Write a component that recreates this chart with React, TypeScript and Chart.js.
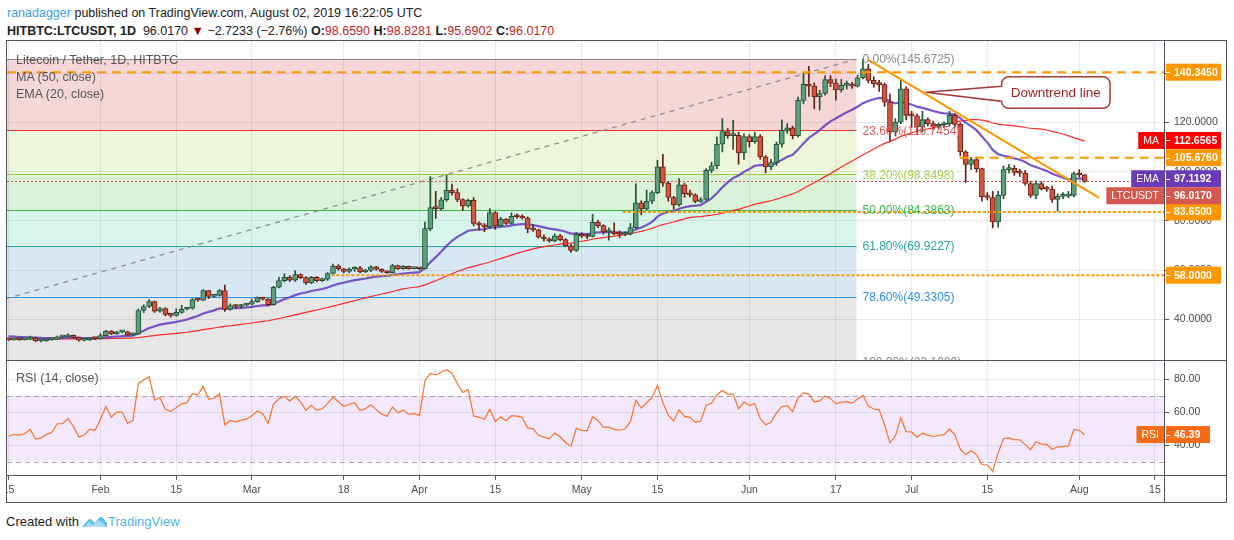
import React, { useEffect, useRef } from "react";
import { Chart, registerables } from "chart.js";

Chart.register(...registerables);

const FONT = "'Liberation Sans', Arial, sans-serif";

// ---------- data (day index = days since 2019-01-01) ----------
const firstDay = 14; // 2019-01-15
const firstOpen = 32.3;

const closes = [
  31.8, 32.0, 31.9, 32.1, 32.6, 31.3, 31.4, 31.8, 32.0, 33.0,
  33.0, 33.6, 32.8, 31.6, 31.8, 32.4, 32.3, 33.5, 35.3, 34.2,
  35.0, 35.0, 33.8, 34.2, 43.7, 45.3, 47.3, 43.4, 44.5, 42.1,
  41.7, 42.9, 44.2, 44.6, 48.1, 47.9, 51.8, 49.4, 49.8, 51.8,
  44.1, 45.7, 45.3, 45.9, 46.2, 47.3, 48.9, 48.3, 46.0, 53.1,
  55.8, 57.1, 56.0, 58.3, 57.0, 54.9, 57.1, 55.8, 56.4, 58.7,
  61.7, 60.6, 59.5, 60.4, 61.0, 59.3, 60.0, 61.4, 60.4, 59.5,
  59.0, 61.9, 60.7, 61.6, 60.7, 60.9, 60.6, 76.9, 85.4, 85.0,
  88.6, 92.4, 91.5, 88.7, 86.1, 88.4, 79.0, 78.4, 77.6, 83.4,
  78.0, 80.7, 79.0, 81.9, 81.7, 81.2, 76.8, 76.4, 73.5, 72.7,
  71.9, 74.0, 72.4, 69.9, 68.1, 74.6, 73.8, 73.7, 79.4, 78.1,
  75.6, 75.6, 74.8, 74.5, 74.9, 77.3, 87.4, 84.9, 88.0, 91.5,
  102.0, 95.4, 89.5, 86.5, 94.7, 91.1, 90.6, 87.9, 88.7, 100.5,
  102.4, 111.1, 116.3, 114.6, 114.7, 107.6, 114.2, 112.2, 114.2, 106.0,
  101.9, 103.7, 111.1, 116.8, 117.8, 114.6, 128.9, 135.4, 134.7, 130.3,
  131.7, 137.3, 135.9, 133.2, 135.0, 135.4, 134.7, 138.1, 141.7, 137.0,
  135.7, 135.3, 128.2, 116.1, 120.1, 133.6, 122.8, 122.6, 118.1, 121.1,
  119.5, 118.4, 119.0, 119.5, 122.8, 119.2, 108.0, 102.9, 104.9, 101.2,
  89.8, 89.5, 79.6, 90.4, 100.8, 101.3, 99.7, 99.4, 95.2, 90.4,
  95.2, 93.1, 92.9, 88.7, 90.0, 90.1, 90.4, 99.2, 98.74, 96.017,
];

const highs = [
  32.5, 32.3, 32.3, 32.4, 33.3, 32.8, 31.8, 32.1, 32.3, 33.3,
  33.5, 34.2, 33.8, 32.9, 32.1, 32.7, 32.6, 34.3, 35.6, 35.5,
  35.3, 35.4, 35.3, 34.5, 44.3, 46.0, 48.1, 47.5, 45.0, 44.8,
  42.5, 44.3, 45.8, 45.0, 48.5, 48.6, 52.2, 51.9, 50.1, 52.2,
  54.0, 46.4, 46.0, 46.2, 46.6, 48.3, 49.2, 49.1, 48.5, 53.5,
  57.2, 58.6, 57.8, 59.8, 58.6, 57.4, 57.5, 57.5, 56.8, 59.1,
  62.5, 62.3, 60.8, 61.0, 61.4, 61.6, 60.4, 61.8, 61.6, 60.6,
  59.8, 62.4, 62.1, 61.9, 61.7, 61.2, 61.0, 79.5, 98.0, 92.0,
  89.5, 98.6, 95.0, 93.0, 89.0, 88.9, 89.5, 79.6, 79.0, 85.0,
  83.8, 81.5, 81.0, 83.3, 82.8, 82.5, 81.7, 78.5, 76.7, 74.4,
  73.2, 74.8, 74.6, 72.8, 70.5, 75.3, 75.2, 74.5, 82.7, 80.3,
  78.5, 77.2, 79.2, 76.0, 75.6, 79.0, 95.1, 88.2, 92.5, 92.2,
  104.6, 107.0, 96.0, 90.0, 97.2, 95.3, 92.5, 91.0, 89.5, 101.2,
  103.9, 114.0, 121.5, 117.5, 120.8, 116.0, 115.3, 115.0, 116.0, 115.0,
  106.5, 105.0, 112.0, 121.0, 119.5, 118.5, 130.2, 139.7, 142.7, 136.0,
  133.0, 139.0, 139.0, 137.5, 137.5, 136.8, 136.2, 139.2, 145.7, 143.5,
  138.5, 137.0, 136.0, 131.6, 121.5, 137.0, 134.5, 124.5, 123.5, 124.5,
  121.8, 120.5, 119.7, 120.2, 124.5, 123.5, 119.8, 108.5, 105.8, 106.0,
  101.5, 91.5, 92.0, 92.0, 102.3, 103.0, 102.5, 101.0, 100.5, 96.0,
  96.3, 96.0, 94.0, 94.2, 91.0, 91.5, 92.0, 99.8, 100.8, 98.83,
];

const lows = [
  31.5, 31.6, 31.6, 31.7, 31.8, 31.0, 30.9, 31.2, 31.6, 31.9,
  32.6, 32.9, 32.5, 31.2, 31.3, 31.5, 31.9, 32.1, 33.3, 33.9,
  34.0, 34.6, 33.5, 33.6, 34.0, 42.8, 44.8, 42.9, 43.0, 41.5,
  41.0, 41.4, 42.6, 43.9, 44.2, 47.4, 47.7, 48.5, 49.0, 49.5,
  43.3, 43.8, 44.6, 44.6, 45.5, 45.9, 47.0, 47.9, 45.6, 45.8,
  52.8, 55.3, 55.4, 55.5, 56.6, 54.3, 54.6, 55.3, 55.5, 55.9,
  58.4, 60.0, 59.0, 59.0, 59.6, 58.9, 59.1, 59.4, 60.0, 59.1,
  58.7, 58.9, 60.3, 60.4, 60.4, 60.5, 60.2, 60.5, 76.0, 81.0,
  84.3, 88.0, 90.5, 87.8, 84.3, 85.6, 78.0, 76.4, 75.6, 76.9,
  76.6, 77.6, 78.5, 78.7, 81.0, 80.7, 75.2, 75.8, 73.0, 71.8,
  71.4, 71.5, 71.9, 69.5, 67.2, 67.6, 73.2, 72.8, 73.5, 77.3,
  74.6, 72.2, 74.4, 73.3, 74.0, 74.3, 77.0, 82.5, 84.6, 87.0,
  91.0, 94.0, 88.0, 84.7, 86.0, 89.6, 89.8, 87.4, 87.5, 88.3,
  99.6, 101.2, 108.0, 113.5, 109.0, 103.0, 105.0, 110.0, 111.5, 105.0,
  99.5, 100.8, 102.5, 110.0, 115.5, 113.3, 114.0, 127.5, 130.5, 125.5,
  125.0, 131.0, 134.5, 129.0, 132.3, 133.5, 133.8, 134.3, 137.6, 136.0,
  134.2, 132.5, 126.5, 112.5, 114.5, 119.5, 121.0, 118.0, 115.5, 116.0,
  118.5, 117.0, 117.5, 117.8, 118.5, 118.0, 106.5, 95.6, 100.8, 99.8,
  88.0, 88.5, 77.2, 77.5, 89.0, 99.5, 98.5, 98.0, 94.5, 89.5,
  89.0, 92.5, 92.0, 87.5, 84.0, 89.0, 89.5, 89.8, 97.8, 95.69,
];

// axis ranges / ticks
const xMin = 13.71;
const xMax = 227.86;
const dateTickDays = [14, 31, 45, 59, 76, 90, 104, 120, 134, 151, 167, 181, 195, 212, 226];
const dateTickLabels = ["15", "Feb", "15", "Mar", "18", "Apr", "15", "May", "15", "Jun", "17", "Jul", "15", "Aug", "15"];
const priceMin = 23.2;
const priceMax = 153.4;
const priceTicks = [40, 60, 80, 100, 120, 140];
const rsiMin = 21.2;
const rsiMax = 91.1;
const rsiTicks = [40, 60, 80];
const rsiBand = [30, 70];

// indicator seeds (values at the left edge)
const emaSeed = 33.3;
const maSeed = 32.2;
const rsiSeedGain = 0.45;
const rsiSeedLoss = 0.5;

// fibonacci retracement drawing
const fibLow = 23.1;
const fibHigh = 145.6725;
const fibStartDay = -27.5;
const fibEndDay = 170.8;
const fibRatios = [0, 0.236, 0.382, 0.5, 0.618, 0.786, 1];
const fibLineColors = ["#8a8a8a", "#e53935", "#9ccc3a", "#3cb84a", "#26a69a", "#2196f3", "#8a8a8a"];
const fibTextColors = ["#8a8a8a", "#e05a5a", "#a8cc52", "#3cb84a", "#26a69a", "#2f8fe0", "#8a8a8a"];
const fibFillColors = ["#f5d7d7", "#eef6da", "#daf2d8", "#d8f5ec", "#d8e9f5", "#e6e6e6"];

// horizontal orange levels
const levelValues = [140.345, 105.676, 83.65, 58];
const levelStartDays = [13.71, 189.9, 127.6, 73.7];
const levelDotted = [false, false, true, true];

// downtrend line
const trendDays = [173, 215.7];
const trendPrices = [145.3, 89.4];

const lastClose = 96.017;
const maLast = 112.6565;
const emaLast = 97.1192;
const rsiLast = 46.39;

const calloutText = "Downtrend line";
const calloutTip = { day: 183.6, price: 132.2 };
const calloutBox = { dayFrom: 197.65, dayTo: 217.7, priceTop: 138.5, priceBottom: 125.7 };

// ---------- derived series ----------
const days = closes.map((_, i) => firstDay + i);
const opens = closes.map((_, i) => (i === 0 ? firstOpen : closes[i - 1]));

function ema(values: number[], period: number, seed: number) {
  const k = 2 / (period + 1);
  let e = seed;
  return values.map((v) => (e = v * k + e * (1 - k)));
}
function sma(values: number[], period: number, seed: number) {
  return values.map((_, i) => {
    const from = Math.max(0, i - period + 1);
    let s = 0;
    for (let j = from; j <= i; j++) s += values[j];
    const missing = period - (i - from + 1);
    return (s + missing * seed) / period;
  });
}
function rsiCalc(values: number[], period: number, g0: number, l0: number, prev0: number) {
  let ag = g0;
  let al = l0;
  let prev = prev0;
  return values.map((v) => {
    const ch = v - prev;
    prev = v;
    ag = (ag * (period - 1) + Math.max(ch, 0)) / period;
    al = (al * (period - 1) + Math.max(-ch, 0)) / period;
    return al === 0 ? 100 : 100 - 100 / (1 + ag / al);
  });
}

const emaSeries = ema(closes, 20, emaSeed);
const maSeries = sma(closes, 50, maSeed);
const rsiSeries = rsiCalc(closes, 14, rsiSeedGain, rsiSeedLoss, firstOpen);

const fibLevel = (r: number) => fibHigh - r * (fibHigh - fibLow);

// ---------- styles ----------
const GRID = "rgba(40,44,55,0.10)";
const UP_FILL = "#5c9f7a";
const UP_LINE = "#1f5236";
const DN_FILL = "#d6533f";
const DN_LINE = "#6b1d14";
const ORANGE = "#FF9800";
const AXIS_TEXT = "#4a4a4a";

const axisLabels = [
  { value: 140.345, text: "140.3450", color: "#FF9800", tag: "" },
  { value: 105.676, text: "105.6760", color: "#FF9800", tag: "" },
  { value: 83.65, text: "83.6500", color: "#FF9800", tag: "" },
  { value: 58, text: "58.0000", color: "#FF9800", tag: "" },
  { value: emaLast, text: "97.1192", color: "#6a3ab8", tag: "EMA" },
  { value: maLast, text: "112.6565", color: "#FF0000", tag: "MA" },
  { value: lastClose, text: "96.0170", color: "#d6574d", tag: "LTCUSDT" },
];

function zeroPadding(s: any) {
  s.paddingTop = 0;
  s.paddingBottom = 0;
  s.paddingLeft = 0;
  s.paddingRight = 0;
}

function drawTaggedLabel(ctx: CanvasRenderingContext2D, axisX: number, y: number, boxW: number, color: string, text: string, tag: string) {
  const h = 17;
  ctx.fillStyle = color;
  ctx.fillRect(axisX + 1, y - h / 2, boxW, h);
  ctx.strokeStyle = "#ffffff";
  ctx.lineWidth = 1;
  ctx.beginPath();
  ctx.moveTo(axisX + 1, Math.round(y) + 0.5);
  ctx.lineTo(axisX + 5, Math.round(y) + 0.5);
  ctx.stroke();
  ctx.fillStyle = "#ffffff";
  ctx.font = `bold 10.5px ${FONT}`;
  ctx.textAlign = "left";
  ctx.textBaseline = "middle";
  ctx.fillText(text, axisX + 9, y + 0.5);
  if (tag) {
    ctx.font = `10.5px ${FONT}`;
    const w = ctx.measureText(tag).width + 10;
    ctx.fillStyle = color;
    ctx.fillRect(axisX - 1 - w, y - h / 2, w, h);
    ctx.fillStyle = "#ffffff";
    ctx.textAlign = "center";
    ctx.fillText(tag, axisX - 1 - w / 2, y + 0.5);
  }
}

const fibPlugin = {
  id: "fib",
  beforeDraw(chart: any) {
    const { ctx, chartArea: a, scales } = chart;
    const xs = scales.x;
    const ys = scales.y;
    const x0 = xs.getPixelForValue(fibStartDay);
    const x1 = xs.getPixelForValue(fibEndDay);
    ctx.save();
    ctx.beginPath();
    ctx.rect(a.left, a.top, a.right - a.left, a.bottom - a.top);
    ctx.clip();
    for (let i = 0; i < fibRatios.length - 1; i++) {
      const yA = ys.getPixelForValue(fibLevel(fibRatios[i]));
      const yB = ys.getPixelForValue(fibLevel(fibRatios[i + 1]));
      ctx.fillStyle = fibFillColors[i];
      ctx.fillRect(x0, yA, x1 - x0, yB - yA);
    }
    ctx.restore();
  },
  beforeDatasetsDraw(chart: any) {
    const { ctx, chartArea: a, scales } = chart;
    const xs = scales.x;
    const ys = scales.y;
    const x0 = Math.max(a.left, xs.getPixelForValue(fibStartDay));
    const x1 = xs.getPixelForValue(fibEndDay);
    ctx.save();
    ctx.beginPath();
    ctx.rect(a.left, a.top, a.right - a.left, a.bottom - a.top);
    ctx.clip();
    fibRatios.forEach((r, i) => {
      const y = Math.round(ys.getPixelForValue(fibLevel(r))) + 0.5;
      ctx.strokeStyle = fibLineColors[i];
      ctx.lineWidth = 1;
      ctx.beginPath();
      ctx.moveTo(x0, y);
      ctx.lineTo(x1, y);
      ctx.stroke();
    });
    ctx.restore();
  },
  afterDatasetsDraw(chart: any) {
    const { ctx, chartArea: a, scales } = chart;
    const xs = scales.x;
    const ys = scales.y;
    const x1 = xs.getPixelForValue(fibEndDay);
    ctx.save();
    ctx.beginPath();
    ctx.rect(a.left, a.top, a.right - a.left, a.bottom - a.top);
    ctx.clip();
    ctx.font = `12px ${FONT}`;
    ctx.textAlign = "left";
    ctx.textBaseline = "middle";
    fibRatios.forEach((r, i) => {
      const v = fibLevel(r);
      const y = ys.getPixelForValue(v);
      ctx.fillStyle = fibTextColors[i];
      ctx.fillText(`${(r * 100).toFixed(2)}%(${v.toFixed(4)})`, x1 + 6, y + 1);
    });

    // callout
    const tx = xs.getPixelForValue(calloutTip.day);
    const ty = ys.getPixelForValue(calloutTip.price);
    const bx0 = xs.getPixelForValue(calloutBox.dayFrom);
    const bx1 = xs.getPixelForValue(calloutBox.dayTo);
    const by0 = ys.getPixelForValue(calloutBox.priceTop);
    const by1 = ys.getPixelForValue(calloutBox.priceBottom);
    const rr = 7;
    const h = by1 - by0;
    const b0 = by0 + h * 0.3;
    const b1 = by0 + h * 0.78;
    ctx.beginPath();
    ctx.moveTo(bx0 + rr, by0);
    ctx.lineTo(bx1 - rr, by0);
    ctx.arcTo(bx1, by0, bx1, by0 + rr, rr);
    ctx.lineTo(bx1, by1 - rr);
    ctx.arcTo(bx1, by1, bx1 - rr, by1, rr);
    ctx.lineTo(bx0 + rr, by1);
    ctx.arcTo(bx0, by1, bx0, by1 - rr, rr);
    ctx.lineTo(bx0, b1);
    ctx.lineTo(tx, ty);
    ctx.lineTo(bx0, b0);
    ctx.lineTo(bx0, by0 + rr);
    ctx.arcTo(bx0, by0, bx0 + rr, by0, rr);
    ctx.closePath();
    ctx.fillStyle = "rgba(255,255,255,0.95)";
    ctx.fill();
    ctx.strokeStyle = "#a33b3b";
    ctx.lineWidth = 1.5;
    ctx.stroke();
    ctx.fillStyle = "#9a1f1f";
    ctx.font = `13.5px ${FONT}`;
    ctx.textAlign = "center";
    ctx.fillText(calloutText, (bx0 + bx1) / 2, (by0 + by1) / 2 + 1);
    ctx.restore();
  },
  afterDraw(chart: any) {
    const { ctx, chartArea: a, scales } = chart;
    const ys = scales.y;
    const placed: number[] = [];
    ctx.save();
    axisLabels.forEach((l) => {
      const target = ys.getPixelForValue(l.value);
      let y = target;
      for (let k = 0; k < 10; k++) {
        const hit = placed.find((p) => Math.abs(p - y) < 16);
        if (hit === undefined) break;
        y = target < hit ? hit - 17 : hit + 17;
      }
      placed.push(y);
      drawTaggedLabel(ctx, a.right, y, 55, l.color, l.text, l.tag);
    });
    ctx.restore();
  },
};

const rsiPlugin = {
  id: "rsiBand",
  beforeDraw(chart: any) {
    const { ctx, chartArea: a, scales } = chart;
    const ys = scales.y;
    const yTop = ys.getPixelForValue(rsiBand[1]);
    const yBot = ys.getPixelForValue(rsiBand[0]);
    ctx.save();
    ctx.fillStyle = "#f3e8fc";
    ctx.fillRect(a.left, yTop, a.right - a.left, yBot - yTop);
    ctx.restore();
  },
  beforeDatasetsDraw(chart: any) {
    const { ctx, chartArea: a, scales } = chart;
    const ys = scales.y;
    ctx.save();
    ctx.strokeStyle = "#a9a6b0";
    ctx.lineWidth = 1;
    ctx.setLineDash([5, 4]);
    rsiBand.forEach((v) => {
      const y = Math.round(ys.getPixelForValue(v)) + 0.5;
      ctx.beginPath();
      ctx.moveTo(a.left, y);
      ctx.lineTo(a.right, y);
      ctx.stroke();
    });
    ctx.restore();
  },
  afterDraw(chart: any) {
    const { ctx, chartArea: a, scales } = chart;
    const y = scales.y.getPixelForValue(rsiLast);
    ctx.save();
    drawTaggedLabel(ctx, a.right, y, 44, "#f76b15", rsiLast.toFixed(2), "RSI");
    ctx.restore();
  },
};

function xScale(showLabels: boolean) {
  return {
    type: "linear",
    min: xMin,
    max: xMax,
    offset: false,
    afterBuildTicks: (s: any) => {
      s.ticks = dateTickDays.map((v) => ({ value: v }));
    },
    afterFit: (s: any) => {
      s.height = showLabels ? 27 : 0;
      zeroPadding(s);
    },
    ticks: {
      display: showLabels,
      autoSkip: false,
      maxRotation: 0,
      padding: 4,
      color: AXIS_TEXT,
      font: { family: FONT, size: 10.5 },
      callback: (_v: any, i: number) => dateTickLabels[i],
    },
    grid: {
      color: GRID,
      offset: false,
      drawTicks: showLabels,
      tickLength: 4,
      tickColor: "#555",
    },
    border: { display: false },
  };
}

function yScale(min: number, max: number, ticks: number[], digits: number) {
  return {
    type: "linear",
    position: "right",
    min,
    max,
    afterBuildTicks: (s: any) => {
      s.ticks = ticks.map((v) => ({ value: v }));
    },
    afterFit: (s: any) => {
      s.width = 69;
      zeroPadding(s);
    },
    ticks: {
      padding: 5,
      color: AXIS_TEXT,
      font: { family: FONT, size: 10.5 },
      callback: (v: any) => Number(v).toFixed(digits),
    },
    grid: { color: GRID, tickLength: 4, tickColor: "#555" },
    border: { display: false },
  };
}

export default function App() {
  const mainRef = useRef<HTMLCanvasElement>(null);
  const rsiRef = useRef<HTMLCanvasElement>(null);

  useEffect(() => {
    const prevMargin = document.body.style.margin;
    document.body.style.margin = "0";
    Chart.defaults.font.family = FONT;

    const upFlags = closes.map((c, i) => c >= opens[i]);
    const lineData = (vals: number[]) => days.map((d, i) => ({ x: d, y: vals[i] }));

    const datasets: any[] = [
      {
        type: "line",
        data: [
          { x: fibStartDay, y: fibLow },
          { x: fibEndDay, y: fibHigh },
        ],
        borderColor: "#8f8f8f",
        borderWidth: 1.3,
        borderDash: [5, 5],
        pointRadius: 0,
        order: 9,
      },
      {
        type: "line",
        data: [
          { x: xMin, y: lastClose },
          { x: xMax, y: lastClose },
        ],
        borderColor: "#d6574d",
        borderWidth: 1,
        borderDash: [2, 2],
        pointRadius: 0,
        order: 8,
      },
      {
        type: "line",
        data: lineData(maSeries),
        borderColor: "rgba(255,20,20,0.9)",
        borderWidth: 1.2,
        pointRadius: 0,
        order: 7,
      },
      {
        type: "line",
        data: lineData(emaSeries),
        borderColor: "rgba(98,58,190,0.85)",
        borderWidth: 2.2,
        pointRadius: 0,
        order: 6,
      },
      {
        type: "bar",
        data: days.map((d, i) => ({
          x: d,
          y: [Math.min(lows[i], opens[i], closes[i]), Math.max(highs[i], opens[i], closes[i])],
        })),
        backgroundColor: upFlags.map((u) => (u ? UP_LINE : DN_LINE)),
        barThickness: 1,
        grouped: false,
        order: 5,
      },
      {
        type: "bar",
        data: days.map((d, i) => ({ x: d, y: [opens[i], closes[i]] })),
        backgroundColor: upFlags.map((u) => (u ? UP_FILL : DN_FILL)),
        borderColor: upFlags.map((u) => (u ? UP_LINE : DN_LINE)),
        borderWidth: 1,
        borderSkipped: false,
        barThickness: 5,
        minBarLength: 2,
        grouped: false,
        order: 4,
      },
      ...levelValues.map((v, i) => ({
        type: "line",
        data: [
          { x: levelStartDays[i], y: v },
          { x: xMax, y: v },
        ],
        borderColor: ORANGE,
        borderWidth: 2,
        borderDash: levelDotted[i] ? [3, 2] : [9, 6],
        pointRadius: 0,
        order: 3,
      })),
      {
        type: "line",
        data: trendDays.map((d, i) => ({ x: d, y: trendPrices[i] })),
        borderColor: ORANGE,
        borderWidth: 2,
        pointRadius: 0,
        order: 2,
      },
    ];

    const main = new Chart(mainRef.current as HTMLCanvasElement, {
      type: "bar",
      data: { datasets },
      options: {
        responsive: false,
        animation: false,
        events: [],
        layout: { padding: { left: 7, right: 0, top: 0, bottom: 0 } },
        plugins: { legend: { display: false }, tooltip: { enabled: false } },
        scales: {
          x: xScale(false) as any,
          y: yScale(priceMin, priceMax, priceTicks, 4) as any,
        },
      } as any,
      plugins: [fibPlugin],
    });

    const rsi = new Chart(rsiRef.current as HTMLCanvasElement, {
      type: "line",
      data: {
        datasets: [
          {
            data: lineData(rsiSeries),
            borderColor: "#f7732a",
            borderWidth: 1.2,
            pointRadius: 0,
          },
        ],
      },
      options: {
        responsive: false,
        animation: false,
        events: [],
        layout: { padding: { left: 7, right: 0, top: 0, bottom: 0 } },
        plugins: { legend: { display: false }, tooltip: { enabled: false } },
        scales: {
          x: xScale(true) as any,
          y: yScale(rsiMin, rsiMax, rsiTicks, 2) as any,
        },
      } as any,
      plugins: [rsiPlugin],
    });

    return () => {
      main.destroy();
      rsi.destroy();
      document.body.style.margin = prevMargin;
    };
  }, []);

  const abs = (o: any) => ({ position: "absolute" as const, ...o });
  const red = { color: "#c0271f" };

  return (
    <div style={{ position: "relative", width: 1234, height: 540, background: "#fff", fontFamily: FONT, overflow: "hidden" }}>
      <div style={abs({ left: 7, top: 4, fontSize: 12.5, lineHeight: "18px", color: "#222", whiteSpace: "nowrap" })}>
        <span style={{ color: "#3d9fdc" }}>ranadagger</span> published on TradingView.com, August 02, 2019 16:22:05 UTC
      </div>
      <div style={abs({ left: 7, top: 22, fontSize: 12.5, lineHeight: "18px", color: "#222", whiteSpace: "nowrap" })}>
        <b>HITBTC:LTCUSDT, 1D</b>&nbsp; 96.0170 <span style={{ color: "#8b0000" }}>▼</span> −2.7233 (−2.76%) <b>O:</b>
        <span style={red}>98.6590</span> <b>H:</b>
        <span style={red}>98.8281</span> <b>L:</b>
        <span style={red}>95.6902</span> <b>C:</b>
        <span style={red}>96.0170</span>
      </div>

      <canvas ref={mainRef} width={1234} height={321} style={abs({ left: 0, top: 40, width: 1234, height: 321 })} />
      <canvas ref={rsiRef} width={1234} height={142} style={abs({ left: 0, top: 361, width: 1234, height: 142 })} />

      <div style={abs({ left: 16, top: 52, fontSize: 12.5, lineHeight: "17px", color: "#555", whiteSpace: "nowrap" })}>
        <div>Litecoin / Tether, 1D, HITBTC</div>
        <div>MA (50, close)</div>
        <div>EMA (20, close)</div>
      </div>
      <div style={abs({ left: 16, top: 370, fontSize: 12.5, lineHeight: "17px", color: "#555", whiteSpace: "nowrap" })}>RSI (14, close)</div>

      {/* frame */}
      <div style={abs({ left: 0, top: 40, width: 6, height: 463, background: "#fff" })} />
      <div style={abs({ left: 6, top: 40, width: 1221, height: 463, border: "1px solid #50535e", boxSizing: "border-box" })} />
      <div style={abs({ left: 6, top: 360, width: 1221, height: 1, background: "#50535e" })} />
      <div style={abs({ left: 6, top: 475, width: 1221, height: 1, background: "#50535e" })} />
      <div style={abs({ left: 1164, top: 40, width: 1, height: 463, background: "#50535e" })} />

      <div style={abs({ left: 6, top: 513, fontSize: 13, lineHeight: "18px", color: "#222", whiteSpace: "nowrap", display: "flex", alignItems: "center" })}>
        <span>Created with</span>
        <svg width="25" height="14" viewBox="0 0 25 14" style={{ margin: "0 1px 0 3px" }}>
          <path d="M0 12 L6 5 Q8 3 10 5 L13 8 L17 3 Q19 1 21 3 L25 8 L25 12 Z" fill="#5fbde8" />
          <path d="M2 12 L7 7 L11 10 L17 5 L23 10 L23 12 Z" fill="#a9dcf3" />
        </svg>
        <span style={{ color: "#4fb3e6" }}>TradingView</span>
      </div>
    </div>
  );
}
